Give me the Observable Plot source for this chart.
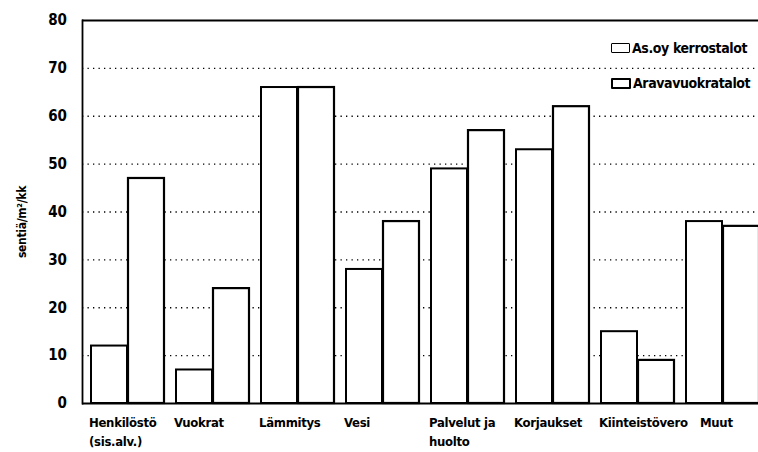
<!DOCTYPE html>
<html>
<head>
<meta charset="utf-8">
<script src="https://cdn.jsdelivr.net/npm/d3@7"></script>
<script src="https://cdn.jsdelivr.net/npm/@observablehq/plot@0.6"></script>
<style>
  html, body { margin: 0; padding: 0; background: #fff; }
  #wrap { position: relative; width: 758px; height: 452px; overflow: hidden; }
  .font, .font svg, .font text { font-family: "DejaVu Sans Condensed", "DejaVu Sans", sans-serif; font-weight: bold; font-stretch: condensed; }
  .leg { position: absolute; left: 611px; display: flex; align-items: center; font-size: 14px; color: #000; white-space: nowrap; letter-spacing: -0.4px; }
  .leg .box { width: 17px; height: 8px; border: 1.5px solid #000; border-radius: 1px; margin-right: 2px; background: #fff; }
  .leg .box.thick { border-width: 2.5px; width: 16px; height: 7px; }
</style>
</head>
<body>
<div id="wrap" class="font"></div>
<script>
const categories = ["Henkilöstö\n(sis.alv.)", "Vuokrat", "Lämmitys", "Vesi", "Palvelut ja\nhuolto", "Korjaukset", "Kiinteistövero", "Muut"];
const seriesNames = ["As.oy kerrostalot", "Aravavuokratalot"];
const asoyValues = [12, 7, 66, 28, 49, 53, 15, 38];
const aravaValues = [47, 24, 66, 38, 57, 62, 9, 37];
const yTicks = [0, 10, 20, 30, 40, 50, 60, 70, 80];
const gridTicks = [10, 20, 30, 40, 50, 60, 70];
const yLabel = "sentiä/m²/kk";

const asoy = categories.map((c, i) => ({category: c, value: asoyValues[i]}));
const arava = categories.map((c, i) => ({category: c, value: aravaValues[i]}));

const half = 37;
const fontFamily = '"DejaVu Sans Condensed", "DejaVu Sans", sans-serif';
const lastCategory = categories[categories.length - 1];
const mainLabels = categories.slice(0, -1);

const xAxisStyle = {tickSize: 0, tickPadding: 10, textAnchor: "start", fontSize: 13, lineHeight: 1.45, label: null};

const chart = Plot.plot({
  width: 758,
  height: 452,
  marginLeft: 82,
  marginRight: 0,
  marginTop: 20,
  marginBottom: 49,
  style: {fontFamily, fontWeight: "bold", fontStretch: "condensed", fontSize: "13px", background: "#fff", color: "#000", letterSpacing: "-0.3px"},
  x: {domain: categories, range: [87.5, 762.1], paddingInner: 0.1375, paddingOuter: 0},
  y: {domain: [0, 80]},
  marks: [
    Plot.gridY(gridTicks, {stroke: "#000", strokeOpacity: 1, strokeWidth: 1.3, strokeDasharray: "1.3,4.2"}),
    Plot.barY(asoy, {x: "category", y: "value", fill: "#fff", stroke: "#000", strokeWidth: 2, insetRight: half}),
    Plot.barY(arava, {x: "category", y: "value", fill: "#fff", stroke: "#000", strokeWidth: 2.2, insetLeft: half}),
    Plot.ruleY([0, 80], {stroke: "#000", strokeWidth: 1.8}),
    Plot.frame({anchor: "left", stroke: "#000", strokeWidth: 1.8}),
    Plot.axisY(yTicks, {tickSize: 0, tickPadding: 16, fontSize: 15, label: null}),
    Plot.axisX(mainLabels, {...xAxisStyle, dx: -half - 2}),
    Plot.axisX([lastCategory], {...xAxisStyle, dx: -half + 14}),
    Plot.text([yLabel], {frameAnchor: "left", textAnchor: "middle", dx: -60, dy: 10, rotate: -90, fontSize: 12, fontWeight: "bold", fill: "#000"})
  ]
});

const wrap = document.getElementById("wrap");
wrap.appendChild(chart);

const legendTops = [40, 75];
seriesNames.forEach((name, i) => {
  const d = document.createElement("div");
  d.className = "leg";
  d.style.top = legendTops[i] + "px";
  const b = document.createElement("span");
  b.className = "box" + (i === 1 ? " thick" : "");
  const t = document.createElement("span");
  t.textContent = name;
  d.appendChild(b);
  d.appendChild(t);
  wrap.appendChild(d);
});
</script>
</body>
</html>
